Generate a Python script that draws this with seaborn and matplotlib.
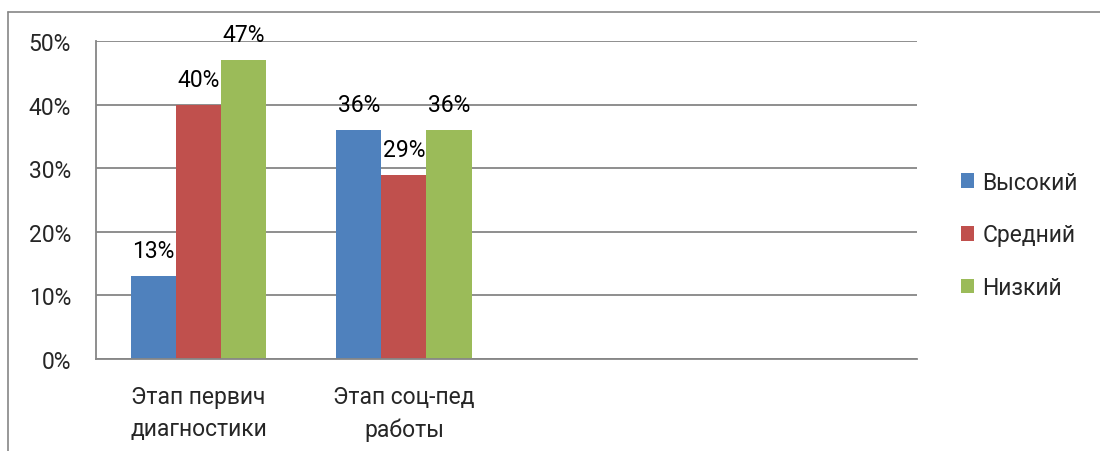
import pandas as pd
import matplotlib
matplotlib.use("Agg")
import matplotlib.pyplot as plt
from matplotlib.lines import Line2D
from matplotlib.patches import Patch
import seaborn as sns

categories = ["Этап первич\nдиагностики", "Этап соц-пед\nработы"]
levels = ["Высокий", "Средний", "Низкий"]
high = [0.13, 0.36]
mid = [0.40, 0.29]
low = [0.47, 0.36]
yticks = [0, 0.1, 0.2, 0.3, 0.4, 0.5]
colors = ["#4F81BD", "#C0504D", "#9BBB59"]

df = pd.DataFrame({
    "stage": categories * 3,
    "level": [levels[0]] * 2 + [levels[1]] * 2 + [levels[2]] * 2,
    "value": high + mid + low,
})

sns.set_style("white")
plt.rcParams["font.family"] = ["Roboto", "DejaVu Sans"]

fs = 16.5
grid_col = "#868686"
fig = plt.figure(figsize=(11, 4.52), dpi=100)
ax = fig.add_axes([96 / 1100, 1 - 360 / 452, (917 - 96) / 1100, (360 - 42) / 452])

sns.barplot(data=df, x="stage", y="value", hue="level", order=categories,
            hue_order=levels, palette=colors, width=0.66, saturation=1,
            edgecolor="none", linewidth=0, ax=ax, legend=False)

for cont in ax.containers:
    ax.bar_label(cont, labels=[f"{v * 100:.0f}%" for v in cont.datavalues],
                 padding=10, fontsize=fs, color="black")

ax.set_xlim(-0.5, 3.5)
ax.set_ylim(0, 0.5)
ax.set_yticks(yticks)
ax.set_yticklabels([f"{t * 100:.0f}%" for t in yticks], fontsize=fs)
ax.set_xticks(range(len(categories)))
ax.set_xticklabels(categories, fontsize=fs, linespacing=1.5)
ax.set_xticks([-0.5, 0.5, 1.5, 2.5, 3.5], minor=True)
ax.tick_params(axis="x", which="major", length=0, pad=19)
ax.tick_params(axis="x", which="minor", length=8, width=1.2, color=grid_col, direction="out")
ax.tick_params(axis="y", length=8, width=1.2, color=grid_col, direction="out", pad=10)
ax.set_xlabel("")
ax.set_ylabel("")
ax.grid(axis="y", color=grid_col, linewidth=1.3)
ax.set_axisbelow(True)
for side in ["top", "right"]:
    ax.spines[side].set_visible(False)
for side in ["left", "bottom"]:
    ax.spines[side].set_color(grid_col)
    ax.spines[side].set_linewidth(1.3)

handles = [Patch(facecolor=c, edgecolor="none") for c in colors]
fig.legend(handles, levels, loc="center left", bbox_to_anchor=(940 / 1100, 1 - 236 / 452),
           frameon=False, fontsize=fs, handlelength=0.6, handleheight=0.6,
           handletextpad=0.35, labelspacing=1.3)

# chart area border (partly cut off)
fig.add_artist(Line2D([8 / 1100, 8 / 1100], [0, 1 - 13 / 452], color=grid_col, lw=1.2))
fig.add_artist(Line2D([8 / 1100, 1], [1 - 13 / 452, 1 - 13 / 452], color=grid_col, lw=1.2))

fig.savefig("out.png", dpi=100)
